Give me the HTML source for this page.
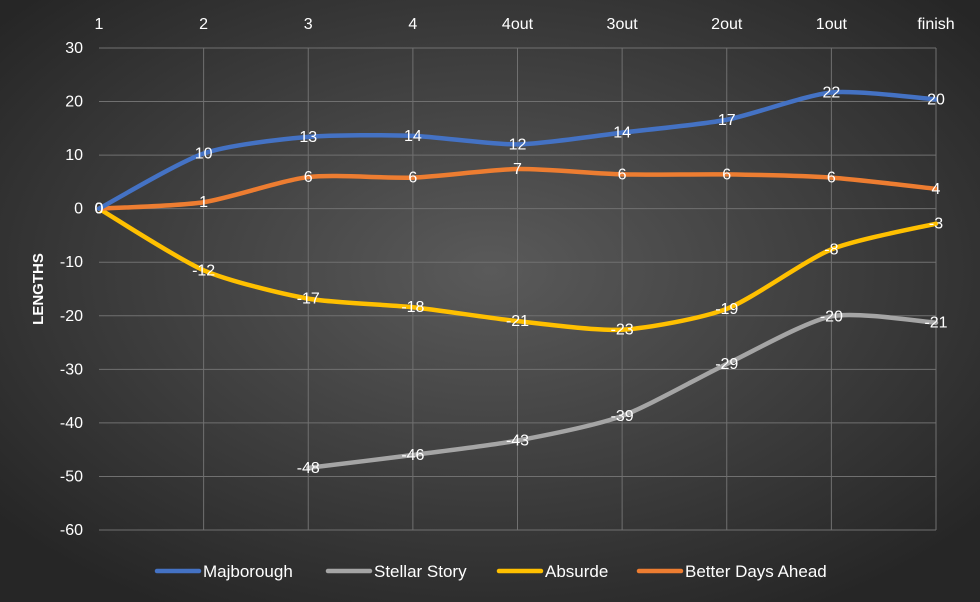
<!DOCTYPE html>
<html><head><meta charset="utf-8"><style>
body{margin:0;background:#333;}
svg{display:block;font-family:"Liberation Sans",sans-serif;}
</style></head><body>
<svg id="chart" width="980" height="602">
<defs><radialGradient id="bg" cx="50%" cy="45%" r="65%"><stop offset="0" stop-color="#5a5a5a"/><stop offset="1" stop-color="#262626"/></radialGradient></defs>
<rect width="980" height="602" fill="url(#bg)"/>
<g id="grid"></g><g id="axes"></g><g id="series"></g><g id="labels"></g>
<text transform="translate(43,289) rotate(-90)" text-anchor="middle" fill="#fff" font-weight="bold" font-size="15">LENGTHS</text>
<g id="legend"></g>
</svg>
<script>
const categories=["1","2","3","4","4out","3out","2out","1out","finish"];
const yTicks=[30,20,10,0,-10,-20,-30,-40,-50,-60];
const seriesNames=["Majborough","Stellar Story","Absurde","Better Days Ahead"];
const seriesColors=["#4472C4","#A5A5A5","#FFC000","#ED7D31"];
const majborough=[0,10.3,13.4,13.6,12,14.2,16.6,21.7,20.4];
const stellar=[null,null,-48.4,-46,-43.3,-38.7,-29,-20.1,-21.3];
const absurde=[0,-11.5,-16.8,-18.4,-21,-22.6,-18.7,-7.6,-2.8];
const better=[0,1.2,5.9,5.8,7.4,6.4,6.4,5.8,3.7];
const majLabels=["0","10","13","14","12","14","17","22","20"];
const stellarLabels=[null,null,"-48","-46","-43","-39","-29","-20","-21"];
const absurdeLabels=["0","-12","-17","-18","-21","-23","-19","-8","-3"];
const betterLabels=["0","1","6","6","7","6","6","6","4"];
const NS="http://www.w3.org/2000/svg";
const x0=99,x1=936,yTop=48,yBot=530,vMax=30,vMin=-60;
const xs=i=>x0+i*(x1-x0)/(categories.length-1);
const ys=v=>yTop+(vMax-v)*(yBot-yTop)/(vMax-vMin);
function mk(tag,attrs,parent){const e=document.createElementNS(NS,tag);for(const k in attrs)e.setAttribute(k,attrs[k]);document.getElementById(parent).appendChild(e);return e;}
yTicks.forEach(t=>{
 const l=mk("line",{x1:x0,x2:x1,y1:ys(t),y2:ys(t),stroke:"#707070","stroke-width":1},"grid");
 
 
 const tx=mk("text",{x:83,y:ys(t)+5,"text-anchor":"end",fill:"#fff","font-size":16},"axes");tx.textContent=t;
 
 
});
categories.forEach((c,i)=>{
 if(i>0){const l=mk("line",{x1:xs(i),x2:xs(i),y1:yTop,y2:yBot,stroke:"#707070","stroke-width":1},"grid");
 
 }
 const tx=mk("text",{x:xs(i),y:29,"text-anchor":"middle",fill:"#fff","font-size":16},"axes");tx.textContent=c;
 
 
});
function smooth(pts){let d="M"+pts[0][0]+","+pts[0][1];for(let i=0;i<pts.length-1;i++){const p0=pts[i-1]||pts[i],p1=pts[i],p2=pts[i+1],p3=pts[i+2]||p2;const t=0.12;
 d+=" C"+(p1[0]+(p2[0]-p0[0])*t)+","+(p1[1]+(p2[1]-p0[1])*t)+" "+(p2[0]-(p3[0]-p1[0])*t)+","+(p2[1]-(p3[1]-p1[1])*t)+" "+p2[0]+","+p2[1];}return d;}
const allData=[majborough,stellar,absurde,better];
const allLabels=[majLabels,stellarLabels,absurdeLabels,betterLabels];
const order=[1,2,3,0];
order.forEach(s=>{
 const pts=[];allData[s].forEach((v,i)=>{if(v!==null)pts.push([xs(i),ys(v)]);});
 const p=mk("path",{d:smooth(pts),fill:"none",stroke:seriesColors[s],"stroke-width":4.5,"stroke-linecap":"round","stroke-linejoin":"round"},"series");
 
 
});
order.forEach(s=>{
 allData[s].forEach((v,i)=>{if(v===null)return;
  const tx=mk("text",{x:xs(i),y:ys(v)+5,"text-anchor":"middle",fill:"#fff","font-size":16},"labels");tx.textContent=allLabels[s][i];
  
  
 });
});
const legX=[157,328,499,639];
seriesNames.forEach((n,s)=>{
 const l=mk("line",{x1:legX[s],x2:legX[s]+42,y1:571,y2:571,stroke:seriesColors[s],"stroke-width":4.5,"stroke-linecap":"round"},"legend");
 
 
 const tx=mk("text",{x:legX[s]+46,y:577,fill:"#fff","font-size":17},"legend");tx.textContent=n;
 
 
});
</script>
</body></html>
